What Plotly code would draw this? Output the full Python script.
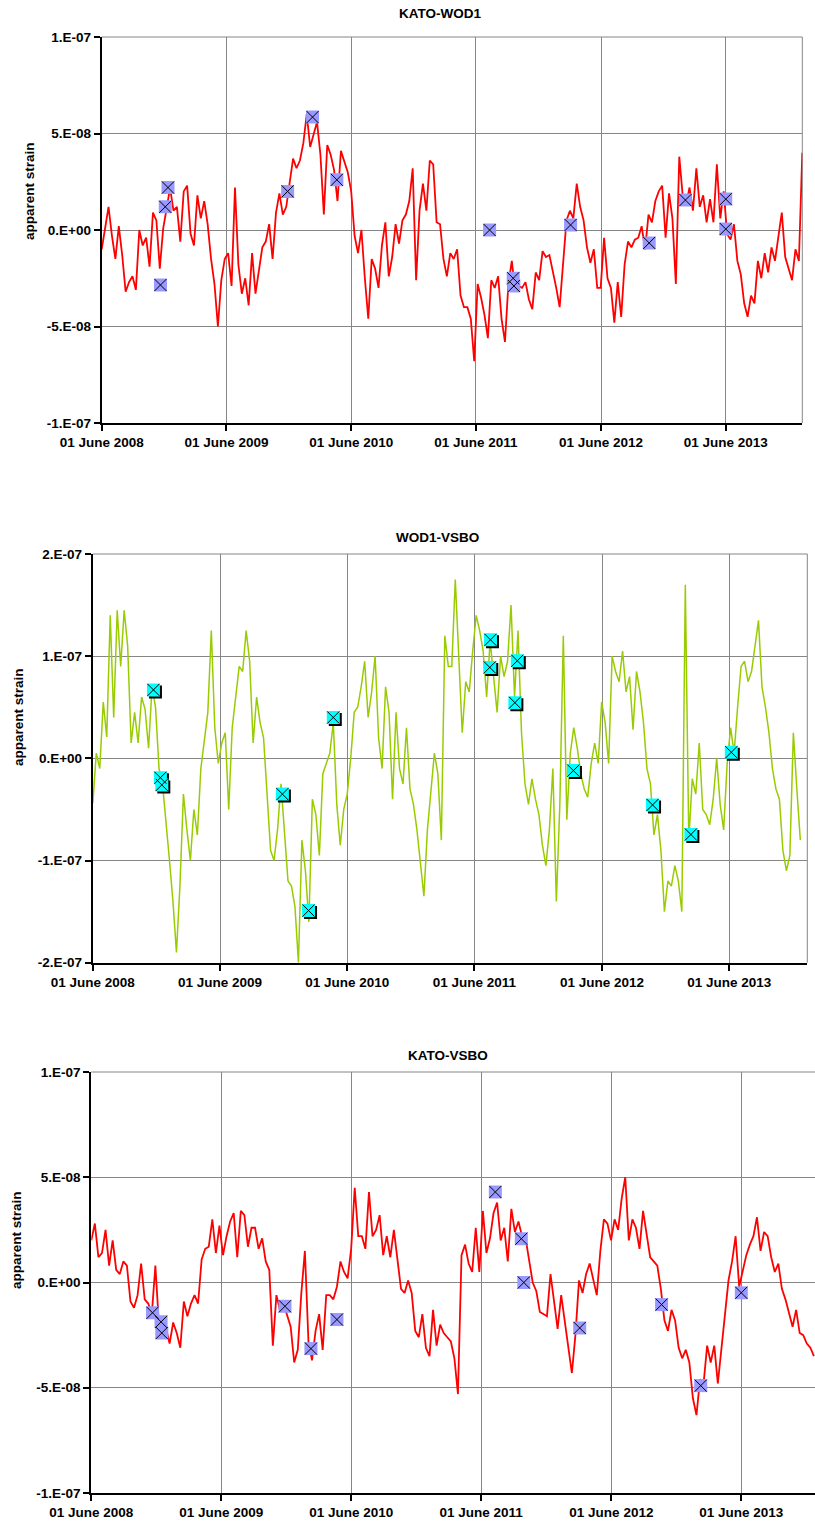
import pandas as pd
import plotly.graph_objects as go

W, H = 815, 1526
OFF = 0  # page margin is removed by the post script below
E8 = 1e-8
START = "2008-06-01"
STEP = "10D"

# ---------------- data (values in units of 1e-8 apparent strain) ----------------
kato_wod1 = [
    -1.0, 0.2, 1.2, -0.3, -1.5, 0.2, -1.3, -3.2, -2.7, -2.4,
    -3.1, 0.0, -0.8, -0.4, -1.9, 0.9, 0.5, -2.0, 0.1, 1.1,
    2.2, 1.0, 1.2, -0.6, 2.0, 2.3, -0.2, -0.8, 1.8, 0.6,
    1.5, 0.3, -1.5, -2.8, -5.0, -2.6, -1.5, -1.2, -2.9, 2.2,
    -1.8, -3.3, -2.5, -3.9, -1.2, -3.3, -2.1, -0.9, -0.6, 0.3,
    -1.5, 0.9, 1.9, 0.8, 1.2, 2.4, 3.7, 3.2, 3.6, 4.5,
    6.0, 4.3, 5.0, 5.6, 3.9, 0.8, 4.4, 3.9, 3.1, 1.5,
    4.1, 3.6, 3.0, 2.0, -0.3, -1.2, 0.0, -2.5, -4.6, -1.5,
    -2.0, -3.0, -0.8, 0.4, -2.4, -1.4, 0.3, -0.7, 0.5, 0.8,
    1.5, 3.2, -2.6, 1.0, 2.4, 1.0, 3.6, 3.4, 0.4, 0.3,
    -1.5, -2.4, -1.2,
    -1.5, -1.0, -3.4, -4.0, -4.0, -4.6, -6.8, -2.8, -3.5, -4.4,
    -5.6, -2.6, -3.0, -2.4, -4.6, -5.8, -2.8, -1.6, -3.2, -2.9,
    -3.0, -2.7, -3.6, -4.1, -2.2, -2.6, -1.1, -1.4, -1.3, -2.1,
    -3.0, -4.0, -1.5, 0.5, 1.0, 0.6, 2.4, 1.2, 0.5, -0.9,
    -1.7, -1.0, -3.0, -3.0, -0.4, -2.5, -3.0, -4.8, -2.7, -4.5,
    -1.8, -0.6, -0.9, -0.5, -0.4, 0.2, -1.0, 0.8, 0.4, 1.5,
    2.0, 2.3, -0.4, 1.9, 0.6, -2.8, 3.8, 1.8, 1.3, 2.2,
    1.0, 3.2, 1.2, 1.8, 0.4, 1.6, 0.4, 3.4, 0.6, 2.0,
    -0.2, -0.5, 0.3, -1.6, -2.3, -3.8, -4.5, -3.4, -3.8, -1.6,
    -2.5, -1.2, -2.2, -0.9, -1.6, -0.2, 0.9, -1.4, -2.0, -2.6,
    -1.0, -1.6, 4.0,
]

wod1_vsbo = [
    -4.4, 0.5, -1.0, 5.5, 2.1, 14.0, 4.0, 14.5, 9.0, 14.5,
    11.0, 1.5, 4.5, 1.5, 6.0, 4.8, 1.0, 7.0, 5.0, -1.0,
    -2.5, -6.0, -10.0, -14.0, -19.0, -12.5, -3.5, -7.0, -10.0, -5.0,
    -7.5, -1.0, 1.5, 4.5, 12.5, 3.0, -0.5, 1.5, 2.5, -5.0,
    3.0, 6.0, 9.0, 8.5, 12.5, 9.5, 1.5, 6.0, 3.5, 2.0,
    -4.0, -9.0, -10.0, -7.0, -2.5, -7.5, -12.0, -12.5, -14.5, -20.0,
    -8.0, -11.0, -16.0, -4.0, -5.5, -9.5, -1.5, -0.5, 0.5, 3.5,
    -4.5, -8.5, -5.0, -3.5, 0.0, 4.5, 5.0, 7.0, 9.5, 4.0,
    6.5, 10.0, 2.0, -1.0, 7.0, 4.5, -4.0, 4.5, -1.0, -2.5,
    3.0, -3.0, -4.5, -7.0, -10.5, -13.5, -7.0, -3.0, 0.5, -1.5,
    -8.0, 12.0, 9.0,
    9.0, 17.5, 10.0, 2.5, 7.5, 6.5, 10.5, 14.0, 12.5, 10.5,
    6.0, 11.5, 8.0, 4.5, 10.0, 8.0, 9.5, 15.0, 6.0, 12.5,
    2.5, -2.5, -4.5, -2.0, -4.0, -5.5, -8.5, -10.5, -7.0, -1.0,
    -14.0, -4.5, 12.0, -6.0, 0.5, 3.0, 1.0, -1.5, -3.0, -3.8,
    -0.5, 1.5, -0.5, 5.5, 3.5, -0.5, 10.0, 8.5, 7.5, 10.5,
    6.5, 8.0, 2.8, 8.5, 6.5, 3.5, -1.0, -2.5, -7.5, -5.5,
    -9.0, -15.0, -12.0, -12.5, -10.5, -12.0, -15.0, 17.0, -8.0, -2.0,
    -3.5, 1.5, -5.0, -5.5, -6.5, -4.0, 0.0, -4.5, -7.0, -0.5,
    3.0, 0.5, 5.0, 9.0, 9.5, 7.5, 8.5, 11.0, 13.5, 7.0,
    5.0, 2.5, -1.0, -3.0, -4.0, -9.0, -11.0, -9.5, 2.5, -3.0,
    -8.0,
]

kato_vsbo = [
    2.0, 2.8, 1.2, 1.4, 2.5, 0.8, 2.0, 0.6, 0.4, 1.0,
    0.8, -0.9, -1.2, -0.6, 0.9, -0.8, -1.0, -1.5, 0.8, -2.0,
    -2.5, -2.2, -2.9, -1.9, -2.4, -3.1, -0.9, -1.6, -1.0, -0.6,
    -1.0, 1.1, 1.6, 1.7, 3.0, 1.4, 2.7, 1.3, 2.2, 2.9,
    3.3, 1.2, 3.4, 3.2, 1.7, 2.6, 2.6, 1.6, 2.1, 1.0,
    0.6, -3.0, -0.6, -1.3, -1.0, -1.6, -2.1, -3.8, -3.2, -0.5,
    1.5, -2.8, -3.7, -2.3, -1.5, -3.2, -0.6, -0.6, -0.8, -0.2,
    1.0, 0.5, 0.2, 1.6, 4.5, 2.2, 2.2, 1.6, 4.3, 2.2,
    2.5, 3.2, 1.3, 2.2, 1.2, 2.5, 1.2, -0.3, -0.5, 0.1,
    -0.5, -2.3, -2.6, -1.5, -3.1, -3.5, -1.3, -3.0, -2.0, -2.4,
    -2.6,
    -2.8, -3.6, -5.3, 1.3, 1.8, 0.9, 0.5, 2.6, 0.5, 3.4,
    1.4, 2.1, 3.3, 3.8, 2.0, 2.6, 1.0, 3.5, 2.4, 2.9,
    2.2, 2.1, 1.1, 0.0, -0.4, -1.4, -1.5, -1.6, 0.4, -1.0,
    -2.2, -0.6, -1.8, -3.0, -4.3, -2.5, 0.1, -0.5, 0.4, 0.9,
    0.2, -0.6, 1.5, 3.0, 2.8, 2.0, 3.0, 2.5, 4.0, 5.0,
    2.0, 3.0, 2.6, 1.6, 3.4, 2.4, 1.2, 1.0, 0.8, -0.3,
    -1.8, -2.3, -1.3, -1.8, -3.1, -3.6, -3.2, -3.8, -5.5, -6.3,
    -4.6, -4.8, -3.0, -3.8, -3.0, -4.8, -3.1, -1.3, 0.1, 1.0,
    2.2, -0.2, 0.6, 1.3, 1.8, 2.2, 3.1, 1.5, 2.4, 2.2,
    1.2, 0.5, 0.9, -0.3, -0.8, -1.5, -2.1, -1.3, -2.4, -2.5,
    -2.9, -3.1, -3.5,
]

# highlighted event markers
kw_mark_dates = ["2008-11-20", "2008-12-04", "2008-12-12", "2009-11-27", "2010-02-08",
                 "2010-04-20", "2011-07-11", "2011-09-18", "2011-09-20", "2012-03-04",
                 "2012-10-20", "2013-02-03", "2013-06-01", "2013-06-01"]
kw_mark_vals = [-2.85, 1.2, 2.2, 2.0, 5.85, 2.6, 0.0, -2.5, -2.9, 0.26, -0.67, 1.55, 1.6, 0.05]

wv_mark_dates = ["2008-11-22", "2008-12-12", "2008-12-16", "2009-11-27", "2010-02-10",
                 "2010-04-22", "2011-07-17", "2011-07-15", "2011-10-02", "2011-09-25",
                 "2012-03-11", "2012-10-24", "2013-02-11", "2013-06-07"]
wv_mark_vals = [6.7, -1.9, -2.6, -3.5, -14.9, 4.0, 11.6, 8.9, 9.55, 5.45, -1.2, -4.56, -7.45, 0.6]

kv_mark_dates = ["2008-11-20", "2008-12-14", "2008-12-16", "2009-11-27", "2010-02-08",
                 "2010-04-22", "2011-07-11", "2011-09-22", "2011-09-29", "2012-03-04",
                 "2012-10-20", "2013-02-07", "2013-06-01"]
kv_mark_vals = [-1.44, -1.87, -2.4, -1.13, -3.14, -1.76, 4.3, 2.08, 0.0, -2.16, -1.05, -4.9, -0.49]

x_tick_dates = ["2008-06-01", "2009-06-01", "2010-06-01", "2011-06-01", "2012-06-01", "2013-06-01"]
x_tick_labels = ["01 June 2008", "01 June 2009", "01 June 2010", "01 June 2011", "01 June 2012", "01 June 2013"]

y1_ticks = [-1e-7, -5e-8, 0.0, 5e-8, 1e-7]
y1_labels = ["-1.E-07", "-5.E-08", "0.E+00", "5.E-08", "1.E-07"]
y2_ticks = [-2e-7, -1e-7, 0.0, 1e-7, 2e-7]
y2_labels = ["-2.E-07", "-1.E-07", "0.E+00", "1.E-07", "2.E-07"]

titles = ["KATO-WOD1", "WOD1-VSBO", "KATO-VSBO"]

# ---------------- styling ----------------
FONT = "Liberation Sans, Arial, sans-serif"
GRID = "#868686"
RED = "#FF0000"
GREEN = "#99CC00"
LAV = "#9999FF"
CYAN = "#00FFFF"
tickfont = dict(family=FONT, size=13.5, color="black", weight="bold")


def px(x):
    return (x - OFF) / W


def py(y):
    return 1 - (y - OFF) / H


def dates_for(vals):
    return pd.date_range(START, periods=len(vals), freq=STEP)


def scaled(vals):
    return [v * E8 for v in vals]


def xax(dom, end, anchor, visible=True):
    d = dict(domain=dom, range=[START, end], type="date", anchor=anchor,
             fixedrange=True, automargin=False)
    if visible:
        d.update(tickmode="array", tickvals=x_tick_dates, ticktext=x_tick_labels,
                 showgrid=True, gridcolor=GRID, gridwidth=1, showline=True,
                 linecolor="black", linewidth=2, ticks="outside", ticklen=6,
                 tickwidth=2, tickcolor="black", tickfont=tickfont, zeroline=False)
    else:
        d.update(visible=False, showgrid=False, zeroline=False)
    return d


def yax(dom, lim, anchor, tv=None, tt=None, visible=True):
    d = dict(domain=dom, range=[-lim, lim], anchor=anchor,
             fixedrange=True, automargin=False)
    if visible:
        d.update(tickmode="array", tickvals=tv, ticktext=tt,
                 showgrid=True, gridcolor=GRID, gridwidth=1, showline=True,
                 linecolor="black", linewidth=2, ticks="outside", ticklen=6,
                 tickwidth=2, tickcolor="black", tickfont=tickfont, zeroline=False)
    else:
        d.update(visible=False, showgrid=False, zeroline=False)
    return d


fig = go.Figure()

# ---- panel 1: KATO-WOD1 ----
fig.add_trace(go.Scatter(x=dates_for(kato_wod1), y=scaled(kato_wod1), mode="lines",
                         line=dict(color=RED, width=1.8), xaxis="x", yaxis="y",
                         hoverinfo="skip", showlegend=False))
fig.add_trace(go.Scatter(x=kw_mark_dates, y=scaled(kw_mark_vals), mode="markers",
                         marker=dict(symbol="square", size=13, color=LAV, line=dict(width=0)),
                         xaxis="x", yaxis="y", hoverinfo="skip", showlegend=False))
fig.add_trace(go.Scatter(x=kw_mark_dates, y=scaled(kw_mark_vals), mode="markers",
                         marker=dict(symbol="x-thin", size=12, line=dict(color="black", width=1)),
                         xaxis="x", yaxis="y", hoverinfo="skip", showlegend=False))

# ---- panel 2: WOD1-VSBO ----
fig.add_trace(go.Scatter(x=dates_for(wod1_vsbo), y=scaled(wod1_vsbo), mode="lines",
                         line=dict(color=GREEN, width=1.5), xaxis="x2", yaxis="y2",
                         hoverinfo="skip", showlegend=False))
# marker shadow (drawn on a copy of the axes shifted 2 px right/down)
fig.add_trace(go.Scatter(x=wv_mark_dates, y=scaled(wv_mark_vals), mode="markers",
                         marker=dict(symbol="square", size=13, color="black", line=dict(width=0)),
                         xaxis="x4", yaxis="y4", hoverinfo="skip", showlegend=False))
fig.add_trace(go.Scatter(x=wv_mark_dates, y=scaled(wv_mark_vals), mode="markers",
                         marker=dict(symbol="square", size=13, color=CYAN, line=dict(width=0)),
                         xaxis="x5", yaxis="y5", hoverinfo="skip", showlegend=False))
fig.add_trace(go.Scatter(x=wv_mark_dates, y=scaled(wv_mark_vals), mode="markers",
                         marker=dict(symbol="x-thin", size=12, line=dict(color="black", width=1)),
                         xaxis="x5", yaxis="y5", hoverinfo="skip", showlegend=False))

# ---- panel 3: KATO-VSBO ----
fig.add_trace(go.Scatter(x=dates_for(kato_vsbo), y=scaled(kato_vsbo), mode="lines",
                         line=dict(color=RED, width=1.8), xaxis="x3", yaxis="y3",
                         hoverinfo="skip", showlegend=False))
fig.add_trace(go.Scatter(x=kv_mark_dates, y=scaled(kv_mark_vals), mode="markers",
                         marker=dict(symbol="square", size=13, color=LAV, line=dict(width=0)),
                         xaxis="x3", yaxis="y3", hoverinfo="skip", showlegend=False))
fig.add_trace(go.Scatter(x=kv_mark_dates, y=scaled(kv_mark_vals), mode="markers",
                         marker=dict(symbol="x-thin", size=12, line=dict(color="black", width=1)),
                         xaxis="x3", yaxis="y3", hoverinfo="skip", showlegend=False))

# panel geometry (page pixels)
P1 = dict(l=101.7, r=802.3, t=37, b=423, end="2014-01-11")
P2 = dict(l=92.8, r=807.3, t=554, b=962.7, end="2014-01-11")
P3 = dict(l=91.3, r=815, t=1072, b=1493, end="2013-12-25")

d1x = [px(P1["l"]), px(P1["r"])]
d1y = [py(P1["b"]), py(P1["t"])]
d2x = [px(P2["l"]), px(P2["r"])]
d2y = [py(P2["b"]), py(P2["t"])]
d3x = [px(P3["l"]), min(1.0, px(P3["r"]))]
d3y = [py(P3["b"]), py(P3["t"])]
d4x = [px(P2["l"] + 2), min(1.0, px(P2["r"] + 2))]
d4y = [py(P2["b"] + 2), py(P2["t"] + 2)]

annotations = [
    dict(text=titles[0], x=px(440), y=py(13)),
    dict(text=titles[1], x=px(437), y=py(537)),
    dict(text=titles[2], x=px(448), y=py(1055)),
    dict(text="apparent strain", x=px(29), y=py(191), textangle=-90),
    dict(text="apparent strain", x=px(18), y=py(717), textangle=-90),
    dict(text="apparent strain", x=px(16), y=py(1240), textangle=-90),
]
for a in annotations:
    a.update(xref="paper", yref="paper", showarrow=False, xanchor="center", yanchor="middle",
             font=dict(family=FONT, size=13.5, color="black", weight="bold"))

shapes = []
for xr, yr in (("x", "y"), ("x2", "y2"), ("x3", "y3")):
    shapes.append(dict(type="line", xref=f"{xr} domain", yref=f"{yr} domain", x0=0, x1=1, y0=1, y1=1,
                       line=dict(color=GRID, width=1), layer="below"))
    if xr != "x3":
        shapes.append(dict(type="line", xref=f"{xr} domain", yref=f"{yr} domain", x0=1, x1=1, y0=0, y1=1,
                           line=dict(color=GRID, width=1), layer="below"))

fig.update_layout(
    width=W, height=H, autosize=False,
    margin=dict(l=0, r=0, t=0, b=0, pad=0, autoexpand=False),
    paper_bgcolor="white", plot_bgcolor="rgba(0,0,0,0)",
    showlegend=False,
    xaxis=xax(d1x, P1["end"], "y"),
    yaxis=yax(d1y, 1e-7, "x", y1_ticks, y1_labels),
    xaxis2=xax(d2x, P2["end"], "y2"),
    yaxis2=yax(d2y, 2e-7, "x2", y2_ticks, y2_labels),
    xaxis3=xax(d3x, P3["end"], "y3"),
    yaxis3=yax(d3y, 1e-7, "x3", y1_ticks, y1_labels),
    xaxis4=xax(d4x, P2["end"], "y4", visible=False),
    yaxis4=yax(d4y, 2e-7, "x4", visible=False),
    xaxis5=xax(d2x, P2["end"], "y5", visible=False),
    yaxis5=yax(d2y, 2e-7, "x5", visible=False),
    annotations=annotations,
    shapes=shapes,
)

fig.write_html(
    "out.html",
    include_plotlyjs=True,
    config={"displayModeBar": False, "staticPlot": True},
    post_script="document.body.style.margin='0';document.body.style.padding='0';"
                "document.body.style.overflow='hidden';",
)
